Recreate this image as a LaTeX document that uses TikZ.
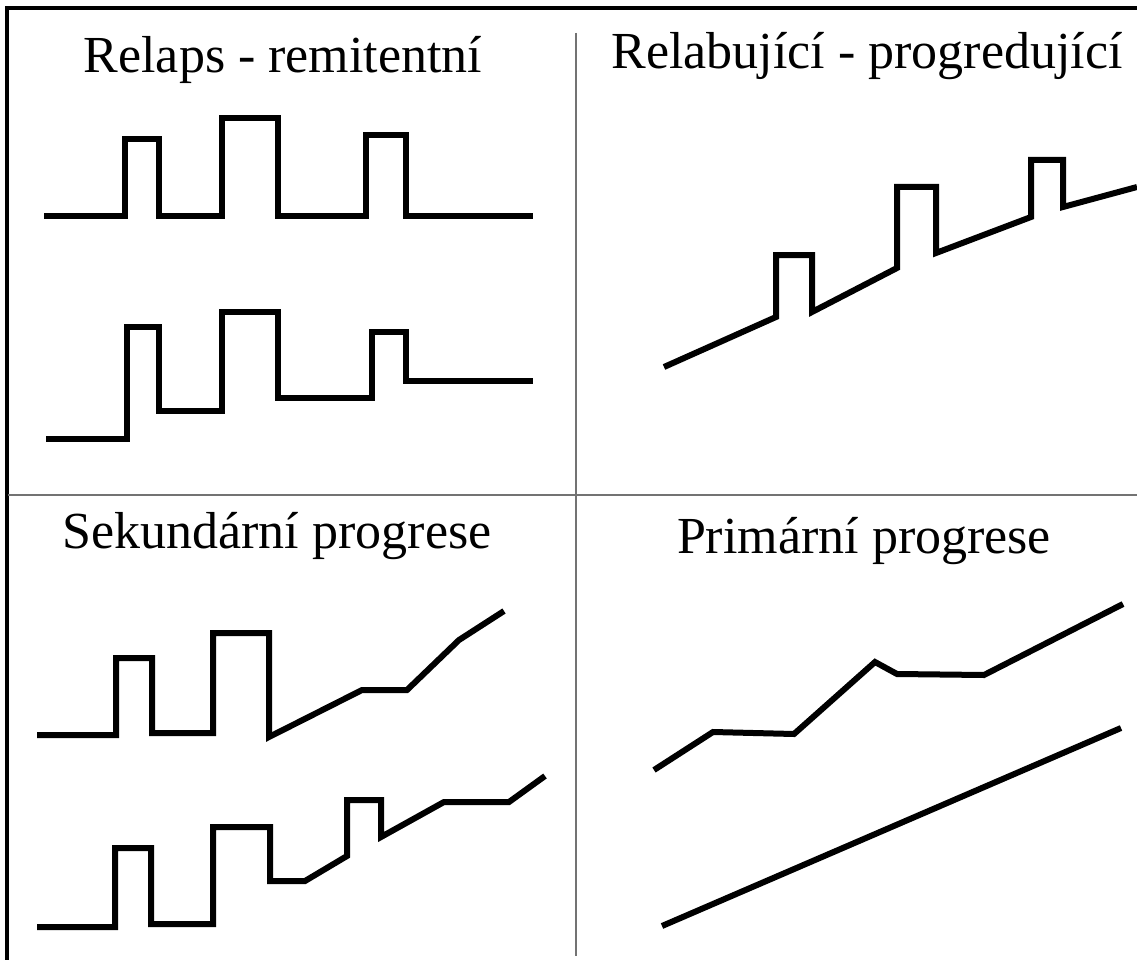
\documentclass[tikz,border=0pt]{standalone}
\usepackage{fontspec}
\setmainfont{Liberation Serif}
\begin{document}
\begin{tikzpicture}[x=1pt,y=-1pt,
  curve/.style={line width=6pt,black,line join=miter},
  frame/.style={line width=4pt,black},
  divider/.style={line width=2pt,black!55},
  title/.style={anchor=base,inner sep=0pt,font=\fontsize{52}{60}\selectfont}]
\useasboundingbox (0,0) rectangle (1137,960);
\fill[white] (0,0) rectangle (1137,960);
% frame
\draw[frame] (6.5,960) -- (6.5,8) -- (1137,8);
% dividers
\draw[divider] (576,33) -- (576,956);
\draw[divider] (8,495) -- (1137,495);
% titles
\node[title] (t1) at (283,73) {Relaps - remitentní};
\node[title] (t2) at (867,69) {Relabující - progredující};
\node[title] (t3) at (277,548) {Sekundární progrese};
\node[title] (t4) at (864,553) {Primární progrese};
% panel 1
\draw[curve] (44,216) -- (125,216) -- (125,139) -- (159,139) -- (159,216) -- (222,216)
  -- (222,118) -- (278,118) -- (278,216) -- (366,216) -- (366,135) -- (406,135)
  -- (406,216) -- (533,216);
\draw[curve] (46,439) -- (127,439) -- (127,327) -- (159,327) -- (159,411) -- (222,411)
  -- (222,312) -- (278,312) -- (278,398) -- (372,398) -- (372,332) -- (406,332)
  -- (406,381) -- (533,381);
% panel 2
\draw[curve] (664,367) -- (776,317) -- (776,255) -- (812,255) -- (812,312)
  -- (897,268) -- (897,187) -- (936,187) -- (936,253) -- (1031,217) -- (1031,160)
  -- (1063,160) -- (1063,207) -- (1137,187);
% panel 3
\draw[curve] (37,735) -- (116,735) -- (116,658) -- (152,658) -- (152,733) -- (213,733)
  -- (213,633) -- (269,633) -- (269,737) -- (362,690) -- (407,690) -- (459,640) -- (504,611);
\draw[curve] (37,927) -- (115,927) -- (115,848) -- (151,848) -- (151,924) -- (213,924)
  -- (213,827) -- (270,827) -- (270,881) -- (305,881) -- (347,856) -- (347,800)
  -- (381,800) -- (381,837) -- (444,802) -- (509,802) -- (545,776);
% panel 4
\draw[curve] (654,770) -- (713,732) -- (794,734) -- (875,662) -- (897,674) -- (984,675) -- (1123,604);
\draw[curve] (662,926) -- (1121,728);
\end{tikzpicture}
\end{document}
